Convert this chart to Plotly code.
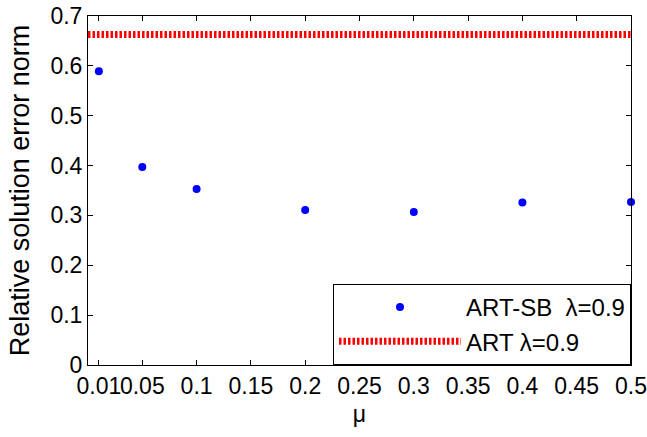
import plotly.graph_objects as go

# Data
mu = [0.01, 0.05, 0.1, 0.2, 0.3, 0.4, 0.5]
art_sb = [0.589, 0.397, 0.353, 0.311, 0.307, 0.326, 0.327]
art_x = [0.0, 0.5]
art_y = [0.663, 0.663]

x_tickvals = [0.01, 0.05, 0.1, 0.15, 0.2, 0.25, 0.3, 0.35, 0.4, 0.45, 0.5]
x_ticktext = ["0.01", "0.05", "0.1", "0.15", "0.2", "0.25", "0.3", "0.35", "0.4", "0.45", "0.5"]
y_tickvals = [0, 0.1, 0.2, 0.3, 0.4, 0.5, 0.6, 0.7]
y_ticktext = ["0", "0.1", "0.2", "0.3", "0.4", "0.5", "0.6", "0.7"]

FONT = "Liberation Sans, Arial, sans-serif"

fig = go.Figure()
fig.add_trace(go.Scatter(
    x=mu, y=art_sb, mode="markers", name="ART-SB&nbsp; λ=0.9",
    marker=dict(color="#0000ff", size=8),
    cliponaxis=False,
))
fig.add_trace(go.Scatter(
    x=art_x, y=art_y, mode="lines", name="ART λ=0.9",
    line=dict(color="#ff0000", width=7, dash="2.5px,2px"),
))

axis_common = dict(
    showline=True, linecolor="black", linewidth=1, mirror="ticks",
    ticks="inside", ticklen=5, tickcolor="black", tickwidth=1,
    showgrid=False, zeroline=False, automargin=False, tickangle=0,
    tickfont=dict(family=FONT, size=23, color="black"),
)

fig.update_xaxes(range=[0, 0.5], tickvals=x_tickvals, ticktext=x_ticktext,
                 title=dict(text="μ", font=dict(family=FONT, size=23, color="black"), standoff=8),
                 **axis_common)
fig.update_yaxes(range=[0, 0.7], tickvals=y_tickvals, ticktext=y_ticktext,
                 title=dict(text="Relative solution error norm", font=dict(family=FONT, size=27, color="black"), standoff=12),
                 **axis_common)

fig.update_layout(
    width=647, height=437,
    margin=dict(l=88, r=16, t=16, b=72),
    plot_bgcolor="white", paper_bgcolor="white",
    font=dict(family=FONT, size=23, color="black"),
    legend=dict(
        x=1, xanchor="right", y=0, yanchor="bottom",
        bordercolor="black", borderwidth=1, bgcolor="white",
        font=dict(family=FONT, size=24, color="black"),
        itemwidth=122, tracegroupgap=0,
    ),
    showlegend=True,
)

fig.write_html(
    "out.html",
    config={"displayModeBar": False},
    post_script="document.body.style.margin='0';document.body.style.overflow='hidden';",
)
